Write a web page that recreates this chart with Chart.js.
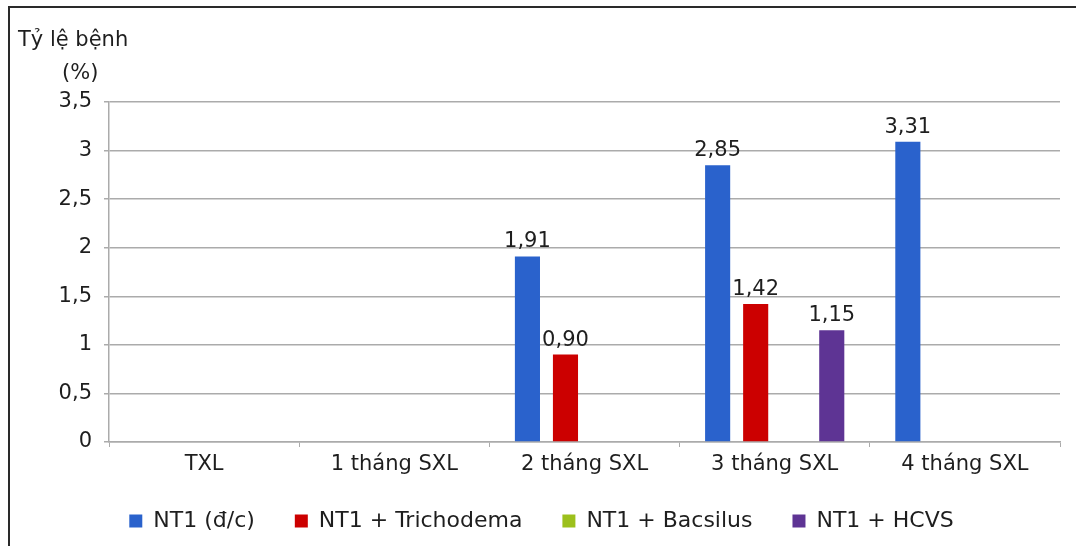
<!DOCTYPE html>
<html>
<head>
<meta charset="utf-8">
<script src="https://cdn.jsdelivr.net/npm/chart.js@4"></script>
<style>
  html, body { margin: 0; padding: 0; background: #ffffff; }
  canvas { display: block; }
</style>
</head>
<body>
<canvas id="c" width="1076" height="546"></canvas>
<script>
const categories = ['TXL', '1 tháng SXL', '2 tháng SXL', '3 tháng SXL', '4 tháng SXL'];
const seriesNames = ['NT1 (đ/c)', 'NT1 + Trichodema', 'NT1 + Bacsilus', 'NT1 + HCVS'];
const nt1Values = [0, 0, 1.91, 2.85, 3.09];
const nt1Text = ['', '', '1,91', '2,85', '3,31'];
const trichoValues = [0, 0, 0.90, 1.42, 0];
const trichoText = ['', '', '0,90', '1,42', ''];
const bacsilusValues = [0, 0, 0, 0, 0];
const bacsilusText = ['', '', '', '', ''];
const hcvsValues = [0, 0, 0, 1.15, 0];
const hcvsText = ['', '', '', '1,15', ''];
const yTickLabels = ['0', '0,5', '1', '1,5', '2', '2,5', '3', '3,5'];
const axisTitleLines = ['Tỷ lệ bệnh', '(%)'];

const FONT = '"DejaVu Sans", sans-serif';
const TEXT = '#1e1e1e';
const GRID = '#ababab';

const valueTexts = [nt1Text, trichoText, bacsilusText, hcvsText];

const decorPlugin = {
  id: 'decor',
  beforeDraw(chart) {
    const ctx = chart.ctx;
    ctx.save();
    ctx.strokeStyle = '#2a2a2a';
    ctx.lineWidth = 2;
    ctx.beginPath();
    ctx.moveTo(9, 546);
    ctx.lineTo(9, 7);
    ctx.lineTo(1076, 7);
    ctx.stroke();
    ctx.restore();
  },
  afterDraw(chart) {
    const ctx = chart.ctx;
    ctx.save();
    ctx.fillStyle = TEXT;
    ctx.font = '21px ' + FONT;
    ctx.textBaseline = 'middle';
    ctx.textAlign = 'left';
    ctx.fillText(axisTitleLines[0], 18, 41);
    ctx.fillText(axisTitleLines[1], 62, 74);
    ctx.textAlign = 'center';
    ctx.textBaseline = 'bottom';
    chart.data.datasets.forEach((ds, di) => {
      const meta = chart.getDatasetMeta(di);
      meta.data.forEach((bar, i) => {
        const t = valueTexts[di][i];
        if (!t) return;
        ctx.fillText(t, bar.x, bar.y - 4);
      });
    });
    ctx.restore();
  }
};

new Chart(document.getElementById('c'), {
  type: 'bar',
  data: {
    labels: categories,
    datasets: [
      { label: seriesNames[0], data: nt1Values, backgroundColor: '#2a62cc' },
      { label: seriesNames[1], data: trichoValues, backgroundColor: '#cc0000' },
      { label: seriesNames[2], data: bacsilusValues, backgroundColor: '#9cc01c' },
      { label: seriesNames[3], data: hcvsValues, backgroundColor: '#5e3494' }
    ]
  },
  options: {
    responsive: false,
    devicePixelRatio: 1,
    animation: false,
    layout: { padding: { top: 102, left: 23, right: 16, bottom: 4 } },
    datasets: { bar: { categoryPercentage: 0.8, barPercentage: 0.66, borderWidth: 0 } },
    scales: {
      x: {
        afterFit(s) { s.height = 28; },
        grid: { display: true, drawOnChartArea: false, drawTicks: true, tickLength: 5, color: GRID, offset: true },
        border: { display: true, color: GRID, width: 1.5 },
        ticks: { color: TEXT, font: { family: FONT, size: 21 }, mirror: true, padding: -35, maxRotation: 0 }
      },
      y: {
        min: 0, max: 3.5,
        afterFit(s) { s.width = 86; },
        grid: { color: GRID, lineWidth: 1.5, tickLength: 5, drawTicks: true },
        border: { display: true, color: GRID, width: 1.5 },
        ticks: {
          stepSize: 0.5, color: TEXT, padding: 12,
          font: { family: FONT, size: 21 },
          callback: (v, i) => yTickLabels[i]
        }
      }
    },
    plugins: {
      legend: {
        position: 'bottom',
        labels: {
          color: TEXT, font: { family: FONT, size: 22 },
          boxWidth: 13, boxHeight: 13, padding: 40
        }
      },
      tooltip: { enabled: false }
    }
  },
  plugins: [decorPlugin]
});
</script>
</body>
</html>
